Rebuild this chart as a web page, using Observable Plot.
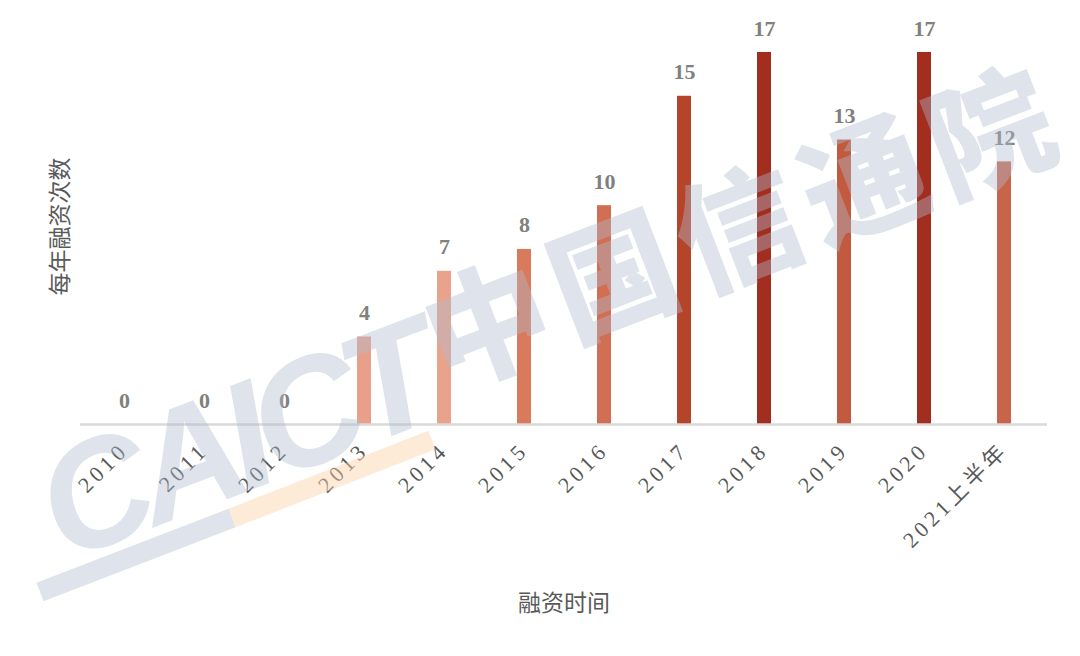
<!DOCTYPE html>
<html>
<head>
<meta charset="utf-8">
<script src="https://cdn.jsdelivr.net/npm/d3@7"></script>
<script src="https://cdn.jsdelivr.net/npm/@observablehq/plot@0.6"></script>
<style>
  html, body { margin: 0; padding: 0; background: #ffffff; }
  #wrap { position: relative; width: 1080px; height: 656px; overflow: hidden; }
  #wm { position: absolute; left: 0; top: 0; pointer-events: none; }
</style>
</head>
<body>
<div id="wrap"></div>
<script>
const categories = ["2010", "2011", "2012", "2013", "2014", "2015", "2016", "2017", "2018", "2019", "2020", "2021上半年"];
const counts = [0, 0, 0, 4, 7, 8, 10, 15, 17, 13, 17, 12];
const xTitle = "融资时间";
const yTitle = "每年融资次数";
const watermarkLatin = "CAICT";
const watermarkCJK = "中国信通院";

const data = categories.map((c, i) => ({cat: c, n: counts[i]}));

const chart = Plot.plot({
  width: 1080,
  height: 656,
  marginLeft: 80,
  marginRight: 33,
  marginTop: 52,
  marginBottom: 232,
  style: {background: "#ffffff"},
  x: {domain: categories, paddingInner: 0.826, paddingOuter: 0.42, axis: null},
  y: {domain: [0, 17], axis: null},
  color: {
    type: "linear",
    domain: [4, 7, 8, 12, 15, 17],
    range: ["#e8a08a", "#e9a28c", "#d97a5d", "#c8644a", "#b5452a", "#a22e1f"]
  },
  marks: [
    Plot.barY(data, {x: "cat", y: "n", fill: "n"}),
    Plot.ruleY([0], {stroke: "#d9d9d9", strokeWidth: 2.5}),
    Plot.text(data, {
      x: "cat", y: "n", text: d => String(d.n), dy: -24,
      fontWeight: "bold", fontFamily: "Liberation Serif, serif", fontSize: 22, fill: "#808080"
    }),
    Plot.axisX({
      tickRotate: -45, tickSize: 0, tickPadding: 22,
      fontSize: 22, fontFamily: "Liberation Serif, 'Noto Sans CJK SC', serif",
      fill: "#595959", label: null
    }),
    Plot.text([xTitle], {
      frameAnchor: "bottom", dy: 179, text: d => d, textAnchor: "middle", lineAnchor: "middle",
      fontSize: 23, fontFamily: "'Noto Sans CJK SC', sans-serif", fill: "#595959"
    }),
    Plot.text([yTitle], {
      frameAnchor: "left", dx: -20, dy: -12, rotate: -90, text: d => d,
      textAnchor: "middle", lineAnchor: "middle",
      fontSize: 23, fontFamily: "'Noto Sans CJK SC', sans-serif", fill: "#595959"
    })
  ]
});

const wrap = document.getElementById("wrap");
wrap.appendChild(chart);
d3.select(chart).selectAll("g[aria-label='x-axis tick label'] text").style("letter-spacing", "4px");

// faint watermark overlay
const wm = d3.select(wrap).append("svg")
  .attr("id", "wm").attr("width", 1080).attr("height", 656);
const wmFill = "#aebbd0";
wm.append("line")
  .attr("x1", 40).attr("y1", 592).attr("x2", 232).attr("y2", 518)
  .attr("stroke", wmFill).attr("stroke-opacity", 0.4).attr("stroke-width", 20);
wm.append("line")
  .attr("x1", 232).attr("y1", 518).attr("x2", 432).attr("y2", 440)
  .attr("stroke", "#fbd3a8").attr("stroke-opacity", 0.45).attr("stroke-width", 20);
wm.append("text")
  .attr("transform", "translate(238,452) rotate(-21)")
  .attr("text-anchor", "middle").attr("dominant-baseline", "middle")
  .style("font-family", "'Liberation Sans', Arial, sans-serif")
  .style("font-weight", "bold").style("font-style", "italic")
  .style("font-size", "152px").style("letter-spacing", "-12px")
  .attr("fill", wmFill).attr("fill-opacity", 0.4)
  .text(watermarkLatin);
// CJK watermark, one glyph at a time along a slanted line
const cjk = Array.from(watermarkCJK);
const start = [492, 336], stepV = [125.5, -48];
wm.selectAll("text.cjk").data(cjk).join("text")
  .attr("class", "cjk")
  .attr("transform", (d, i) => `translate(${start[0] + i * stepV[0]},${start[1] + i * stepV[1]}) rotate(-21)`)
  .attr("text-anchor", "middle").attr("dominant-baseline", "middle")
  .style("font-family", "'Noto Sans CJK SC', sans-serif")
  .style("font-weight", 900)
  .style("font-size", "124px")
  .attr("fill", wmFill).attr("fill-opacity", 0.4)
  .text(d => d);
</script>
</body>
</html>
